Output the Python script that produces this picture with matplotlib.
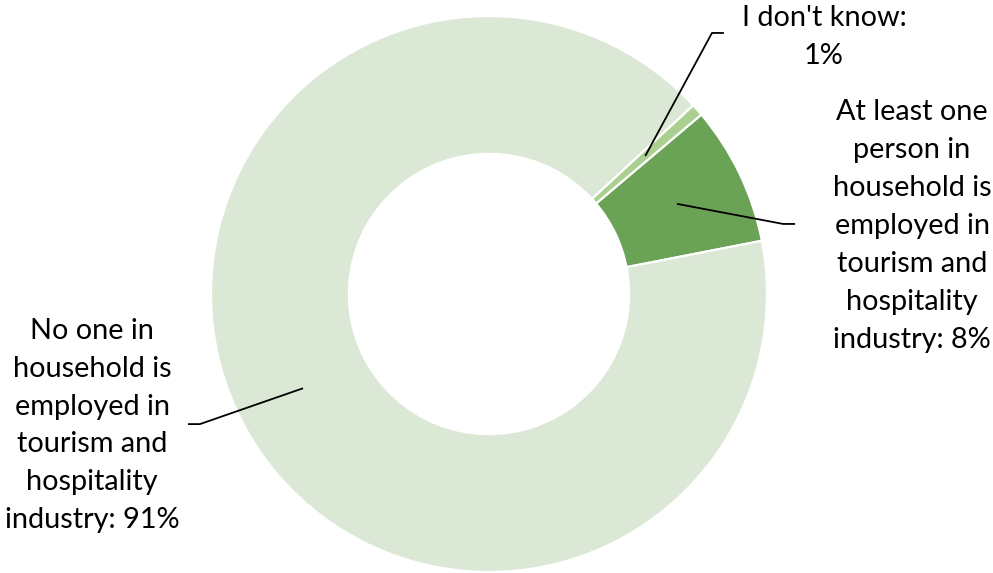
import numpy as np
import matplotlib.pyplot as plt

# Share of households with someone employed in tourism / hospitality
labels = [
    "At least one\nperson in\nhousehold is\nemployed in\ntourism and\nhospitality\nindustry: 8%",
    "No one in\nhousehold is\nemployed in\ntourism and\nhospitality\nindustry: 91%",
    "I don't know:\n1%",
]
shares = [8.1, 91.2, 0.7]
colors = ["#6ba356", "#dce8d6", "#a9d08e"]

# label anchor (text centre) and leader elbow, in units of the outer radius
text_pos = [(1.522, 0.245), (-1.428, -0.473), (1.205, 0.924)]
elbow_pos = [(1.058, 0.252), (-1.040, -0.468), (0.802, 0.939)]

W, H, DPI = 993, 573, 100
cx, cy, R = 489, 294, 278  # pixel centre and radius of the ring

fig = plt.figure(figsize=(W / DPI, H / DPI), dpi=DPI)
ax = fig.add_axes([0, 0, 1, 1])

start = 40.2
wedges, _ = ax.pie(
    shares,
    colors=colors,
    startangle=start,
    counterclock=False,
    radius=1.0,
    wedgeprops=dict(width=0.496, edgecolor="white", linewidth=1.6),
    frame=True,
)
ax.set_xlim(-cx / R, (W - cx) / R)
ax.set_ylim(-(H - cy) / R, cy / R)
ax.axis("off")

for w, lab, tp, ep in zip(wedges, labels, text_pos, elbow_pos):
    mid = np.deg2rad((w.theta1 + w.theta2) / 2)
    r0 = 0.75
    sx, sy = r0 * np.cos(mid), r0 * np.sin(mid)
    side = 1 if tp[0] > 0 else -1
    ex = ep[0] + side * 0.043
    ax.plot([sx, ep[0], ex], [sy, ep[1], ep[1]], color="black", lw=1.3,
            solid_capstyle="butt")
    ax.text(tp[0], tp[1], lab, ha="center", va="center", fontsize=20.8,
            family="Lato", linespacing=1.57, color="black")

fig.savefig("out.png", dpi=DPI)
